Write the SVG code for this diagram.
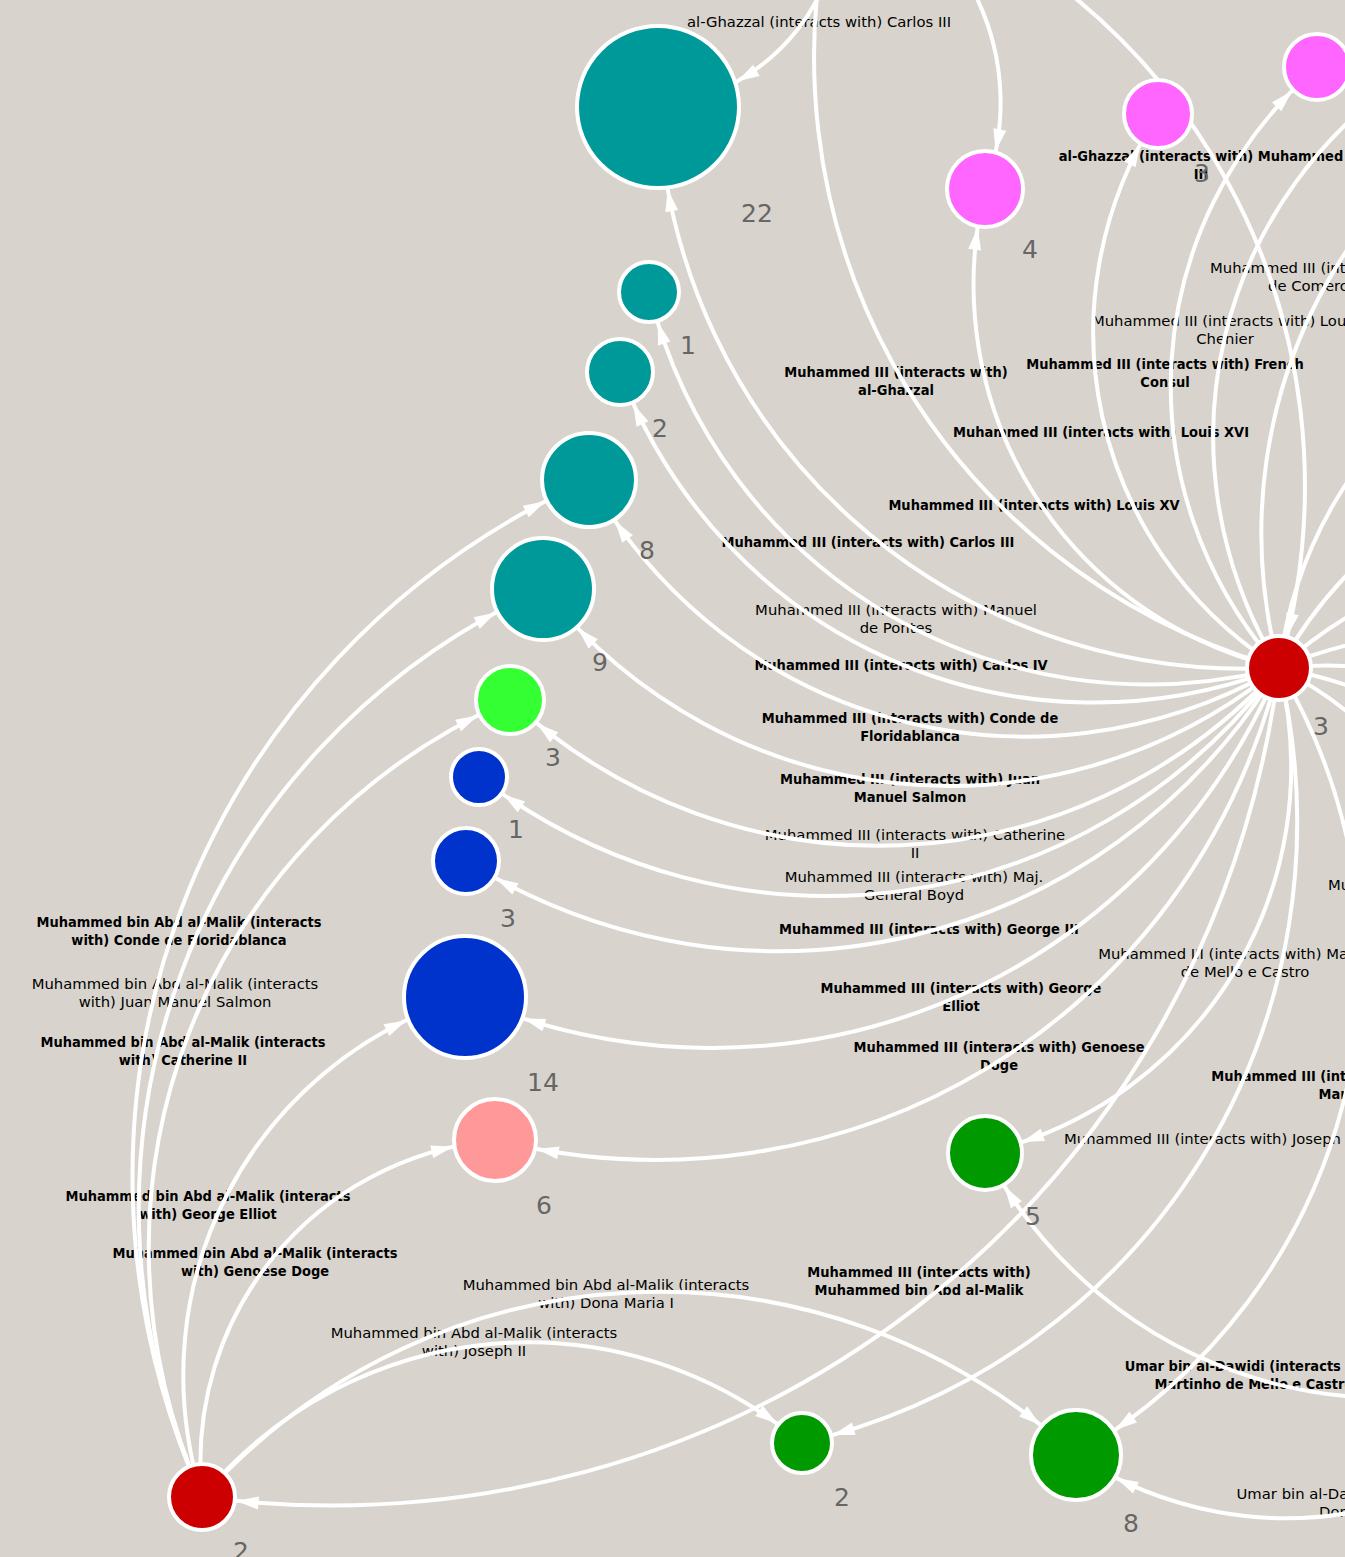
<svg xmlns="http://www.w3.org/2000/svg" width="1345" height="1557" viewBox="0 0 1345 1557">
<style>
.e{fill:none;stroke:#fff;stroke-width:4}
.n{stroke:#fff;stroke-width:4}
.el{font-family:"DejaVu Sans","Liberation Sans",sans-serif;font-size:14.8px;fill:#000;text-anchor:middle}
.eb{font-family:"DejaVu Sans","Liberation Sans",sans-serif;font-size:14.8px;fill:#000;text-anchor:middle;font-weight:bold}
.st{text-anchor:start}
.nl{font-family:"DejaVu Sans","Liberation Sans",sans-serif;font-size:25px;fill:#666;text-anchor:middle}
.teal{fill:#009999}.mag{fill:#ff66ff}.lime{fill:#33ff33}.blue{fill:#0033cc}.pink{fill:#ff9999}.green{fill:#009900}.red{fill:#cc0000}
</style>
<defs>
<path id="ah" d="M0,0 L-22,-6.5 L-22,6.5 Z" fill="#fff"/>
</defs>
<rect x="0" y="0" width="1345" height="1557" fill="#d8d4cd"/>

<g id="edge-labels">
<text class="el" x="819" y="27">al-Ghazzal (interacts with) Carlos III</text>
<text class="eb" transform="matrix(0.88,0,0,1,1201,0)"><tspan x="0" y="161">al-Ghazzal (interacts with) Muhammed</tspan><tspan x="0" y="179">III</tspan></text>
<text class="el st" x="1210" y="273">Muhammed III (interacts with)</text>
<text class="el st" x="1268" y="291">de Comerc</text>
<text class="el"><tspan x="1225" y="326">Muhammed III (interacts with) Louis</tspan><tspan x="1225" y="344">Chenier</tspan></text>
<text class="eb" transform="matrix(0.88,0,0,1,1165,0)"><tspan x="0" y="369">Muhammed III (interacts with) French</tspan><tspan x="0" y="387">Consul</tspan></text>
<text class="eb" transform="matrix(0.88,0,0,1,896,0)"><tspan x="0" y="377">Muhammed III (interacts with)</tspan><tspan x="0" y="395">al-Ghazzal</tspan></text>
<text class="eb" transform="matrix(0.88,0,0,1,1101,0)"><tspan x="0" y="437">Muhammed III (interacts with) Louis XVI</tspan></text>
<text class="eb" transform="matrix(0.88,0,0,1,1034,0)"><tspan x="0" y="510">Muhammed III (interacts with) Louis XV</tspan></text>
<text class="eb" transform="matrix(0.88,0,0,1,868,0)"><tspan x="0" y="547">Muhammed III (interacts with) Carlos III</tspan></text>
<text class="el"><tspan x="896" y="615">Muhammed III (interacts with) Manuel</tspan><tspan x="896" y="633">de Pontes</tspan></text>
<text class="eb" transform="matrix(0.88,0,0,1,901,0)"><tspan x="0" y="670">Muhammed III (interacts with) Carlos IV</tspan></text>
<text class="eb" transform="matrix(0.88,0,0,1,910,0)"><tspan x="0" y="723">Muhammed III (interacts with) Conde de</tspan><tspan x="0" y="741">Floridablanca</tspan></text>
<text class="eb" transform="matrix(0.88,0,0,1,910,0)"><tspan x="0" y="784">Muhammed III (interacts with) Juan</tspan><tspan x="0" y="802">Manuel Salmon</tspan></text>
<text class="el"><tspan x="915" y="840">Muhammed III (interacts with) Catherine</tspan><tspan x="915" y="858">II</tspan></text>
<text class="el"><tspan x="914" y="882">Muhammed III (interacts with) Maj.</tspan><tspan x="914" y="900">General Boyd</tspan></text>
<text class="el st" x="1328" y="890">Muhammed III</text>
<text class="eb" transform="matrix(0.88,0,0,1,929,0)"><tspan x="0" y="934">Muhammed III (interacts with) George III</tspan></text>
<text class="el"><tspan x="1245" y="959">Muhammed III (interacts with) Martinho</tspan><tspan x="1245" y="977">de Mello e Castro</tspan></text>
<text class="eb" transform="matrix(0.88,0,0,1,961,0)"><tspan x="0" y="993">Muhammed III (interacts with) George</tspan><tspan x="0" y="1011">Elliot</tspan></text>
<text class="eb" transform="matrix(0.88,0,0,1,999,0)"><tspan x="0" y="1052">Muhammed III (interacts with) Genoese</tspan><tspan x="0" y="1070">Doge</tspan></text>
<text class="eb" transform="matrix(0.88,0,0,1,1344,0)"><tspan x="0" y="1081">Muhammed III (interacts with) Dona</tspan><tspan x="0" y="1099">Maria I</tspan></text>
<text class="el st" x="1064" y="1144">Muhammed III (interacts with) Joseph II</text>
<text class="eb" transform="matrix(0.88,0,0,1,179,0)"><tspan x="0" y="927">Muhammed bin Abd al-Malik (interacts</tspan><tspan x="0" y="945">with) Conde de Floridablanca</tspan></text>
<text class="el"><tspan x="175" y="989">Muhammed bin Abd al-Malik (interacts</tspan><tspan x="175" y="1007">with) Juan Manuel Salmon</tspan></text>
<text class="eb" transform="matrix(0.88,0,0,1,183,0)"><tspan x="0" y="1047">Muhammed bin Abd al-Malik (interacts</tspan><tspan x="0" y="1065">with) Catherine II</tspan></text>
<text class="eb" transform="matrix(0.88,0,0,1,208,0)"><tspan x="0" y="1201">Muhammed bin Abd al-Malik (interacts</tspan><tspan x="0" y="1219">with) George Elliot</tspan></text>
<text class="eb" transform="matrix(0.88,0,0,1,255,0)"><tspan x="0" y="1258">Muhammed bin Abd al-Malik (interacts</tspan><tspan x="0" y="1276">with) Genoese Doge</tspan></text>
<text class="eb" transform="matrix(0.88,0,0,1,919,0)"><tspan x="0" y="1277">Muhammed III (interacts with)</tspan><tspan x="0" y="1295">Muhammed bin Abd al-Malik</tspan></text>
<text class="el"><tspan x="606" y="1290">Muhammed bin Abd al-Malik (interacts</tspan><tspan x="606" y="1308">with) Dona Maria I</tspan></text>
<text class="el"><tspan x="474" y="1338">Muhammed bin Abd al-Malik (interacts</tspan><tspan x="474" y="1356">with) Joseph II</tspan></text>
<text class="eb" transform="matrix(0.88,0,0,1,1254,0)"><tspan x="0" y="1371">Umar bin al-Dawidi (interacts with)</tspan><tspan x="0" y="1389">Martinho de Mello e Castro</tspan></text>
<text class="el"><tspan x="1366" y="1499">Umar bin al-Dawidi (interacts with)</tspan><tspan x="1366" y="1517">Dona Maria I</tspan></text>
</g>

<g id="connectors">
<path class="e" d="M1279,668 C948,685 675,438 658,107"/>
<path class="e" d="M1279,668 C997,739 720,574 649,292"/>
<path class="e" d="M1279,668 C1012,770 722,639 620,372"/>
<path class="e" d="M1279,668 C1033,809 730,726 589,480"/>
<path class="e" d="M1279,668 C1051,852 727,817 543,589"/>
<path class="e" d="M1279,668 C1073,892 734,906 510,700"/>
<path class="e" d="M1279,668 C1086,923 734,971 479,777"/>
<path class="e" d="M1279,668 C1105,950 748,1035 466,861"/>
<path class="e" d="M1279,668 C1143,988 785,1133 465,997"/>
<path class="e" d="M1279,668 C1192,1020 847,1227 495,1140"/>
<path class="e" d="M1279,668 C1333,886 1203,1100 985,1153"/>
<path class="e" d="M1279,668 C1362,1019 1153,1360 802,1443"/>
<path class="e" d="M1279,668 C1443,945 1353,1292 1076,1455"/>
<path class="e" d="M1279,668 C1210,1202 736,1566 202,1497"/>
<path class="e" d="M1279,668 C1063,616 933,405 985,189"/>
<path class="e" d="M1279,668 C1090,547 1037,303 1158,114"/>
<path class="e" d="M1279,668 C1121,489 1138,225 1317,67"/>
<path class="e" d="M1279,668 C934,569 741,220 840,-125"/>
<path class="e" d="M1279,668 C1151,458 1215,192 1425,63"/>
<path class="e" d="M1279,668 C1206,390 1366,114 1644,41"/>
<path class="e" d="M1279,668 C1467,763 1540,984 1445,1172"/>
<path class="e" d="M1279,668 C1308,433 1515,271 1750,300"/>
<path class="e" d="M1279,668 C1392,461 1643,387 1850,500"/>
<path class="e" d="M1279,668 C1462,503 1735,517 1900,700"/>
<path class="e" d="M1279,668 C1504,573 1755,675 1850,900"/>
<path class="e" d="M1279,668 C1518,643 1725,811 1750,1050"/>
<path class="e" d="M1279,668 C1532,713 1695,947 1650,1200"/>
<path class="e" d="M840,-125 C1185,-26 1378,323 1279,668"/>
<path class="e" d="M840,-125 C854,-9 774,93 658,107"/>
<path class="e" d="M840,-125 C968.5,-77.7 1032.3,60.5 985,189"/>
<path class="e" d="M202,1497 C25.6,1103.9 195.9,656.4 589,480"/>
<path class="e" d="M202,1497 C43.2,1147.3 193.3,747.8 543,589"/>
<path class="e" d="M202,1497 C65.1,1187.6 200.6,836.9 510,700"/>
<path class="e" d="M202,1497 C135.6,1283.4 251.4,1063.4 465,997"/>
<path class="e" d="M202,1497 C184.1,1315 313,1157.9 495,1140"/>
<path class="e" d="M202,1497 C354.9,1313.9 618.9,1290.1 802,1443"/>
<path class="e" d="M202,1497 C435,1240.5 819.5,1222 1076,1455"/>
<path class="e" d="M1605,1343 C1378.2,1463.4 1105.4,1379.8 985,1153"/>
<path class="e" d="M1605,1343 C1488.2,1522.5 1255.5,1571.8 1076,1455"/>
<use href="#ah" transform="translate(667.7,189.5) rotate(259.4)"/>
<use href="#ah" transform="translate(657.7,322.5) rotate(252.5)"/>
<use href="#ah" transform="translate(633.3,404) rotate(245.5)"/>
<use href="#ah" transform="translate(614.9,520.9) rotate(234.9)"/>
<use href="#ah" transform="translate(577.8,628.2) rotate(225.6)"/>
<use href="#ah" transform="translate(537,723.4) rotate(219)"/>
<use href="#ah" transform="translate(503.2,794.5) rotate(214.4)"/>
<use href="#ah" transform="translate(496.1,878.4) rotate(208.4)"/>
<use href="#ah" transform="translate(523.4,1018.5) rotate(197.4)"/>
<use href="#ah" transform="translate(536.8,1149) rotate(190.3)"/>
<use href="#ah" transform="translate(1022,1142.1) rotate(160.9)"/>
<use href="#ah" transform="translate(832.7,1434.9) rotate(163.9)"/>
<use href="#ah" transform="translate(1115.2,1429.8) rotate(145)"/>
<use href="#ah" transform="translate(236.6,1500.9) rotate(185.4)"/>
<use href="#ah" transform="translate(977.7,227.8) rotate(277.9)"/>
<use href="#ah" transform="translate(1140.1,144.8) rotate(297.8)"/>
<use href="#ah" transform="translate(1292,90.9) rotate(314.1)"/>
<use href="#ah" transform="translate(1287.5,635.3) rotate(103.1)"/>
<use href="#ah" transform="translate(737.3,81.2) rotate(150.5)"/>
<use href="#ah" transform="translate(995.6,151.2) rotate(101.1)"/>
<use href="#ah" transform="translate(545.3,501.3) rotate(332.4)"/>
<use href="#ah" transform="translate(496,612.4) rotate(331.4)"/>
<use href="#ah" transform="translate(477.7,715.4) rotate(332.9)"/>
<use href="#ah" transform="translate(406.2,1020.4) rotate(334)"/>
<use href="#ah" transform="translate(453.2,1146.8) rotate(347.1)"/>
<use href="#ah" transform="translate(776.9,1423.6) rotate(35.8)"/>
<use href="#ah" transform="translate(1040.4,1424.9) rotate(38.1)"/>
<use href="#ah" transform="translate(1004.5,1186.3) rotate(237.4)"/>
<use href="#ah" transform="translate(1116.2,1478) rotate(206.3)"/>
</g>

<g id="nodes">
<g id="n-carlos-iii"><circle class="n teal" cx="658" cy="107" r="81"/><text class="nl" x="757" y="222">22</text></g>
<g id="n-teal-1"><circle class="n teal" cx="649" cy="292" r="30"/><text class="nl" x="688" y="354">1</text></g>
<g id="n-teal-2"><circle class="n teal" cx="620" cy="372" r="33"/><text class="nl" x="660" y="437">2</text></g>
<g id="n-teal-8"><circle class="n teal" cx="589" cy="480" r="47"/><text class="nl" x="647" y="559">8</text></g>
<g id="n-teal-9"><circle class="n teal" cx="543" cy="589" r="51"/><text class="nl" x="600" y="671">9</text></g>
<g id="n-catherine-ii"><circle class="n lime" cx="510" cy="700" r="34"/><text class="nl" x="553" y="766">3</text></g>
<g id="n-blue-1"><circle class="n blue" cx="479" cy="777" r="28"/><text class="nl" x="516" y="838">1</text></g>
<g id="n-blue-3"><circle class="n blue" cx="466" cy="861" r="33"/><text class="nl" x="508" y="927">3</text></g>
<g id="n-blue-14"><circle class="n blue" cx="465" cy="997" r="61"/><text class="nl" x="543" y="1091">14</text></g>
<g id="n-genoese-doge"><circle class="n pink" cx="495" cy="1140" r="41"/><text class="nl" x="544" y="1214">6</text></g>
<g id="n-martinho"><circle class="n green" cx="985" cy="1153" r="37"/><text class="nl" x="1033" y="1225">5</text></g>
<g id="n-joseph-ii"><circle class="n green" cx="802" cy="1443" r="30"/><text class="nl" x="842" y="1506">2</text></g>
<g id="n-dona-maria-i"><circle class="n green" cx="1076" cy="1455" r="45"/><text class="nl" x="1131" y="1532">8</text></g>
<g id="n-muhammed-bin-abd-al-malik"><circle class="n red" cx="202" cy="1497" r="33"/><text class="nl" x="241" y="1560">2</text></g>
<g id="n-muhammed-iii"><circle class="n red" cx="1279" cy="668" r="32"/><text class="nl" x="1321" y="735">3</text></g>
<g id="n-louis-xv"><circle class="n mag" cx="985" cy="189" r="38"/><text class="nl" x="1030" y="258">4</text></g>
<g id="n-louis-xvi"><circle class="n mag" cx="1158" cy="114" r="34"/><text class="nl" x="1202" y="182">3</text></g>
<g id="n-french-consul"><circle class="n mag" cx="1317" cy="67" r="33"/></g>
</g>
</svg>
